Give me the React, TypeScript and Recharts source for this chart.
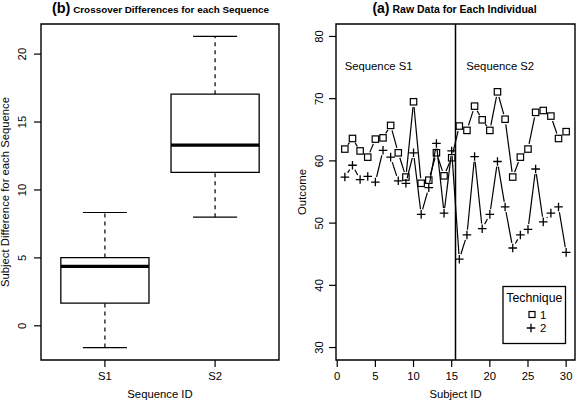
import React from "react";
import { ComposedChart, Scatter, XAxis, YAxis, ReferenceArea, ReferenceLine } from "recharts";

const FONT = '"Liberation Sans", Arial, Helvetica, sans-serif';

// ---------- Panel (b): crossover differences ----------
const sequences = ["S1", "S2"];
const seqPositions = [1, 2];
const whiskerLow = [-1.6, 8.0];
const boxLow = [1.67, 11.29];
const medians = [4.38, 13.3];
const boxHigh = [5.02, 17.05];
const whiskerHigh = [8.34, 21.3];
const diffTicks = [0, 5, 10, 15, 20];

// ---------- Panel (a): raw data ----------
const subjectIds = [1, 2, 3, 4, 5, 6, 7, 8, 9, 10, 11, 12, 13, 14, 15, 16, 17, 18, 19, 20, 21, 22, 23, 24, 25, 26, 27, 28, 29, 30];
const technique1 = [61.9, 63.6, 61.6, 60.6, 63.5, 63.7, 65.7, 61.3, 57.4, 69.5, 56.4, 56.9, 61.3, 57.6, 60.5, 65.6, 64.9, 68.8, 66.6, 64.9, 71.1, 66.7, 57.4, 60.6, 61.9, 67.8, 68.1, 67.2, 63.6, 64.7];
const technique2 = [57.4, 59.3, 57.0, 57.5, 56.6, 61.7, 60.6, 56.8, 56.4, 61.3, 51.4, 55.7, 62.8, 51.6, 61.6, 44.2, 48.1, 60.7, 49.1, 51.4, 59.9, 52.6, 46.0, 48.1, 49.0, 58.7, 50.2, 51.6, 52.6, 45.3];
const subjectTicks = [0, 5, 10, 15, 20, 25, 30];
const outcomeTicks = [30, 40, 50, 60, 70, 80];
const sequenceBoundary = 15.5;
const techniqueLabels = ["1", "2"];

const FS = 11.3;
const GAP = 5.2;

function gapLine(props: any) {
  const pts = props.points || [];
  const segs: any[] = [];
  for (let i = 0; i < pts.length - 1; i++) {
    const a = pts[i];
    const b = pts[i + 1];
    const dx = b.x - a.x;
    const dy = b.y - a.y;
    const len = Math.hypot(dx, dy);
    if (len <= 2 * GAP) continue;
    const ux = dx / len;
    const uy = dy / len;
    segs.push(
      <line key={i} x1={a.x + ux * GAP} y1={a.y + uy * GAP} x2={b.x - ux * GAP} y2={b.y - uy * GAP} />
    );
  }
  return (
    <g stroke="#000" strokeWidth={1.2} fill="none">
      {segs}
    </g>
  );
}

const squareShape = (p: any) => (
  <rect x={p.cx - 3.2} y={p.cy - 3.2} width={6.4} height={6.4} fill="none" stroke="#000" strokeWidth={1.2} />
);
const plusShape = (p: any) => (
  <path d={`M${p.cx - 4.3},${p.cy}H${p.cx + 4.3}M${p.cx},${p.cy - 4.3}V${p.cy + 4.3}`} stroke="#000" strokeWidth={1.3} fill="none" />
);

const makeYTick = (baseX: number) => (props: any) => (
  <text
    x={baseX}
    y={props.y}
    transform={`rotate(-90 ${baseX} ${props.y})`}
    textAnchor="middle"
    fontSize={FS}
    fontFamily={FONT}
    fill="#000"
  >
    {props.payload.value}
  </text>
);

const makeXTick = (fmt: (v: number) => string) => (props: any) => (
  <text x={props.x} y={379.5} textAnchor="middle" fontSize={FS} fontFamily={FONT} fill="#000">
    {fmt(props.payload.value)}
  </text>
);

function BoxPanel() {
  const medianPts = seqPositions.map((p, i) => ({ pos: p, med: medians[i] }));
  const xDom: [number, number] = [0.42, 2.58];
  const yDom: [number, number] = [-2.516, 22.216];
  return (
    <ComposedChart width={288} height={402} margin={{ top: 24, right: 9, bottom: 0, left: 0 }} data={medianPts}>
      <XAxis
        type="number"
        dataKey="pos"
        domain={xDom}
        ticks={seqPositions}
        allowDataOverflow
        interval={0}
        height={42}
        axisLine={false}
        tickSize={7}
        tickLine={{ stroke: "#000", strokeWidth: 1.2 }}
        tick={makeXTick((v) => sequences[seqPositions.indexOf(v)] ?? String(v))}
      />
      <YAxis
        type="number"
        domain={yDom}
        ticks={diffTicks}
        allowDataOverflow
        interval={0}
        width={41}
        axisLine={false}
        tickSize={7}
        tickLine={{ stroke: "#000", strokeWidth: 1.2 }}
        tick={makeYTick(26.5)}
      />
      <ReferenceArea x1={xDom[0]} x2={xDom[1]} y1={yDom[0]} y2={yDom[1]} fill="none" fillOpacity={0} stroke="#000" strokeWidth={1.4} ifOverflow="visible" />
      {seqPositions.map((p, i) => (
        <ReferenceLine key={"wu" + i} segment={[{ x: p, y: boxHigh[i] }, { x: p, y: whiskerHigh[i] }]} stroke="#000" strokeWidth={1.2} strokeDasharray="4 4" ifOverflow="visible" />
      ))}
      {seqPositions.map((p, i) => (
        <ReferenceLine key={"wl" + i} segment={[{ x: p, y: whiskerLow[i] }, { x: p, y: boxLow[i] }]} stroke="#000" strokeWidth={1.2} strokeDasharray="4 4" ifOverflow="visible" />
      ))}
      {seqPositions.map((p, i) => (
        <ReferenceLine key={"su" + i} segment={[{ x: p - 0.2, y: whiskerHigh[i] }, { x: p + 0.2, y: whiskerHigh[i] }]} stroke="#000" strokeWidth={1.2} ifOverflow="visible" />
      ))}
      {seqPositions.map((p, i) => (
        <ReferenceLine key={"sl" + i} segment={[{ x: p - 0.2, y: whiskerLow[i] }, { x: p + 0.2, y: whiskerLow[i] }]} stroke="#000" strokeWidth={1.2} ifOverflow="visible" />
      ))}
      {seqPositions.map((p, i) => (
        <ReferenceArea key={"box" + i} x1={p - 0.4} x2={p + 0.4} y1={boxLow[i]} y2={boxHigh[i]} fill="#fff" fillOpacity={1} stroke="#000" strokeWidth={1.3} ifOverflow="visible" />
      ))}
      {seqPositions.map((p, i) => (
        <ReferenceLine key={"md" + i} segment={[{ x: p - 0.4, y: medians[i] }, { x: p + 0.4, y: medians[i] }]} stroke="#000" strokeWidth={3.2} ifOverflow="visible" />
      ))}
      <Scatter dataKey="med" shape={() => <g />} isAnimationActive={false} />
    </ComposedChart>
  );
}

function RawPanel() {
  const t1Data = subjectIds.map((id, i) => ({ id, value: technique1[i] }));
  const t2Data = subjectIds.map((id, i) => ({ id, value: technique2[i] }));
  const xDom: [number, number] = [-0.16, 31.16];
  const yDom: [number, number] = [28, 82];
  return (
    <ComposedChart width={288} height={402} margin={{ top: 24, right: 1, bottom: 0, left: 0 }}>
      <XAxis
        type="number"
        dataKey="id"
        domain={xDom}
        ticks={subjectTicks}
        allowDataOverflow
        interval={0}
        height={42}
        axisLine={false}
        tickSize={7}
        tickLine={{ stroke: "#000", strokeWidth: 1.2 }}
        tick={makeXTick((v) => String(v))}
      />
      <YAxis
        type="number"
        dataKey="value"
        domain={yDom}
        ticks={outcomeTicks}
        allowDataOverflow
        interval={0}
        width={48}
        axisLine={false}
        tickSize={7}
        tickLine={{ stroke: "#000", strokeWidth: 1.2 }}
        tick={makeYTick(35.3)}
      />
      <ReferenceArea x1={xDom[0]} x2={xDom[1]} y1={yDom[0]} y2={yDom[1]} fill="none" fillOpacity={0} stroke="#000" strokeWidth={1.4} ifOverflow="visible" />
      <ReferenceLine x={sequenceBoundary} stroke="#000" strokeWidth={1.5} ifOverflow="visible" />
      <Scatter data={t1Data} dataKey="value" line={gapLine} shape={squareShape} isAnimationActive={false} />
      <Scatter data={t2Data} dataKey="value" line={gapLine} shape={plusShape} isAnimationActive={false} />
    </ComposedChart>
  );
}

export default function App() {
  const txt = { fontFamily: FONT, fill: "#000" } as const;
  return (
    <div style={{ position: "absolute", left: 0, top: 0, width: 576, height: 402, background: "#fff" }}>
      <div style={{ position: "absolute", left: 0, top: 0 }}>
        <BoxPanel />
      </div>
      <div style={{ position: "absolute", left: 288, top: 0 }}>
        <RawPanel />
      </div>
      <svg width={576} height={402} style={{ position: "absolute", left: 0, top: 0, pointerEvents: "none" }}>
        {/* titles */}
        <text x={160.5} y={12.5} textAnchor="middle" {...txt} fontWeight="bold">
          <tspan fontSize={14.5}>(b)</tspan>
          <tspan fontSize={9.9}> Crossover Differences for each Sequence</tspan>
        </text>
        <text x={454.5} y={12.5} textAnchor="middle" {...txt} fontWeight="bold">
          <tspan fontSize={14}>(a)</tspan>
          <tspan fontSize={10.5}> Raw Data for Each Individual</tspan>
        </text>
        {/* axis labels */}
        <text x={160} y={397.5} textAnchor="middle" fontSize={FS} {...txt}>Sequence ID</text>
        <text x={455.5} y={397.5} textAnchor="middle" fontSize={FS} {...txt}>Subject ID</text>
        <text x={8.5} y={192} transform="rotate(-90 8.5 192)" textAnchor="middle" fontSize={FS} {...txt}>
          Subject Difference for each Sequence
        </text>
        <text x={305.5} y={192} transform="rotate(-90 305.5 192)" textAnchor="middle" fontSize={FS} {...txt}>
          Outcome
        </text>
        {/* sequence annotations */}
        <text x={344.7} y={70} fontSize={FS} {...txt}>Sequence S1</text>
        <text x={466.3} y={70} fontSize={FS} {...txt}>Sequence S2</text>
        {/* legend */}
        <rect x={503} y={286.5} width={62.5} height={57} fill="#fff" stroke="#000" strokeWidth={1.3} />
        <text x={534.3} y={301.5} textAnchor="middle" fontSize={12.3} {...txt}>Technique</text>
        <rect x={529} y={311.5} width={6} height={6} fill="none" stroke="#000" strokeWidth={1.2} />
        <text x={540} y={318.5} fontSize={FS} {...txt}>{techniqueLabels[0]}</text>
        <path d="M526.7,328H535.3M531,323.7V332.3" stroke="#000" strokeWidth={1.3} />
        <text x={540} y={332} fontSize={FS} {...txt}>{techniqueLabels[1]}</text>
      </svg>
    </div>
  );
}
